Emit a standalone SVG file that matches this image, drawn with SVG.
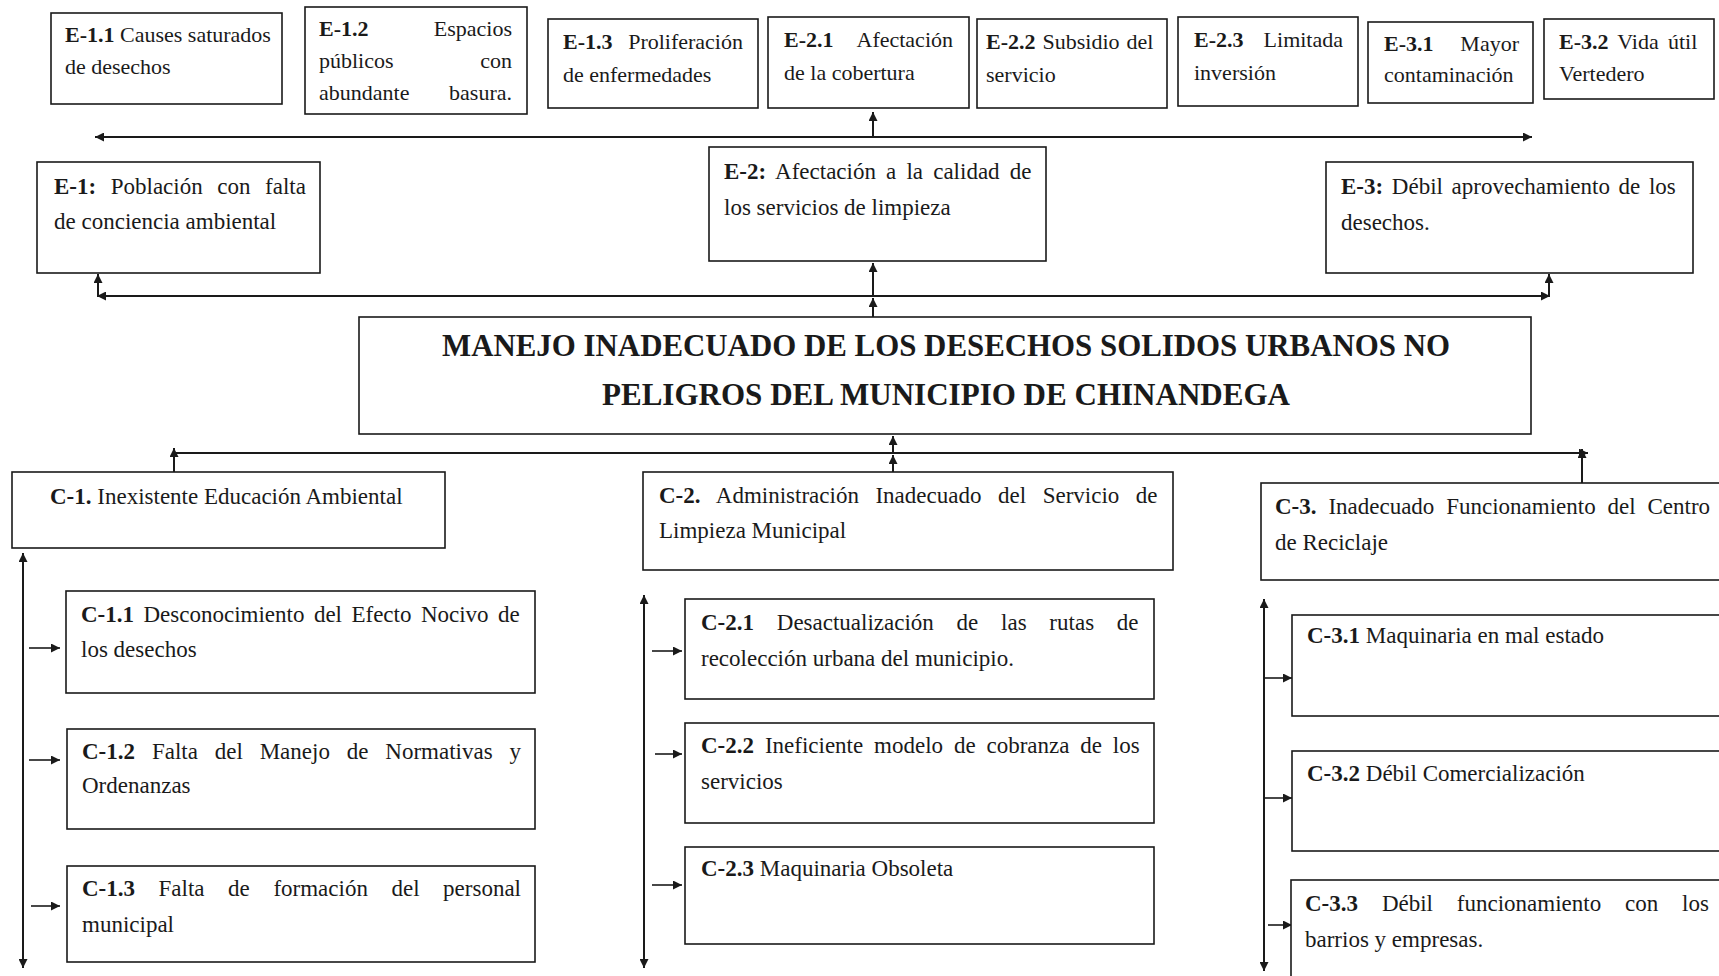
<svg xmlns="http://www.w3.org/2000/svg" width="1719" height="976" viewBox="0 0 1719 976">
<style>
text{font-family:"Liberation Serif","Times New Roman",serif;fill:#1a1a1a}
.t{font-size:22px}
.m{font-size:23px}
.b{font-weight:bold}
.e{text-anchor:end}
.box{fill:#fff;stroke:#1a1a1a;stroke-width:1.6}
.ttl{font-size:32px;font-weight:bold;text-anchor:middle}
.c{fill:none;stroke:#1a1a1a;stroke-width:2}
.c1{fill:none;stroke:#1a1a1a;stroke-width:1.6}
</style>
<defs>
<marker id="ah" viewBox="0 0 10 10" refX="10" refY="5" markerWidth="11" markerHeight="9" orient="auto-start-reverse" markerUnits="userSpaceOnUse"><path d="M0,0 L10,5 L0,10 z" fill="#1a1a1a"/></marker>
</defs>
<rect width="1719" height="976" fill="#fff"/>

<g id="connectors">
<path class="c" d="M95,137 H1532" marker-start="url(#ah)" marker-end="url(#ah)"/>
<path class="c" d="M873,137 V112" marker-end="url(#ah)"/>
<path class="c" d="M97,296 H1550" marker-start="url(#ah)" marker-end="url(#ah)"/>
<path class="c" d="M98,296 V274" marker-end="url(#ah)"/>
<path class="c" d="M1549,296 V274" marker-end="url(#ah)"/>
<path class="c" d="M873,296 V263" marker-end="url(#ah)"/>
<path class="c" d="M873,317 V298" marker-end="url(#ah)"/>
<path class="c" d="M174,453 H1588" marker-end="url(#ah)"/>
<path class="c" d="M174,472 V448" marker-end="url(#ah)"/>
<path class="c" d="M893,453 V436" marker-end="url(#ah)"/>
<path class="c" d="M893,472 V455" marker-end="url(#ah)"/>
<path class="c" d="M1582,483 V449" marker-end="url(#ah)"/>
<path class="c" d="M23,553 V968" marker-start="url(#ah)" marker-end="url(#ah)"/>
<path class="c1" d="M29,648 H60" marker-end="url(#ah)"/>
<path class="c1" d="M29,760 H60" marker-end="url(#ah)"/>
<path class="c1" d="M31,906 H60" marker-end="url(#ah)"/>
<path class="c" d="M644,595 V968" marker-start="url(#ah)" marker-end="url(#ah)"/>
<path class="c1" d="M652,651 H682" marker-end="url(#ah)"/>
<path class="c1" d="M655,754 H682" marker-end="url(#ah)"/>
<path class="c1" d="M652,885 H682" marker-end="url(#ah)"/>
<path class="c" d="M1264,599 V971" marker-start="url(#ah)" marker-end="url(#ah)"/>
<path class="c1" d="M1264,678 H1292" marker-end="url(#ah)"/>
<path class="c1" d="M1264,798 H1292" marker-end="url(#ah)"/>
<path class="c1" d="M1268,925 H1292" marker-end="url(#ah)"/>
</g>

<g id="E-1.1"><rect class="box" x="51" y="13" width="231" height="91"/>
<text class="t" x="65" y="42"><tspan class="b">E-1.1</tspan> Causes saturados</text>
<text class="t" x="65" y="74">de desechos</text></g>

<g id="E-1.2"><rect class="box" x="305" y="7" width="222" height="107"/>
<text class="t b" x="319" y="36">E-1.2</text><text class="t e" x="512" y="36">Espacios</text>
<text class="t" x="319" y="68">públicos</text><text class="t e" x="512" y="68">con</text>
<text class="t" x="319" y="100">abundante</text><text class="t e" x="512" y="100">basura.</text></g>

<g id="E-1.3"><rect class="box" x="548" y="19" width="210" height="89"/>
<text class="t b" x="563" y="49">E-1.3</text><text class="t e" x="743" y="49">Proliferación</text>
<text class="t" x="563" y="82">de enfermedades</text></g>

<g id="E-2.1"><rect class="box" x="768" y="17" width="201" height="91"/>
<text class="t b" x="784" y="47">E-2.1</text><text class="t e" x="953" y="47">Afectación</text>
<text class="t" x="784" y="80">de la cobertura</text></g>

<g id="E-2.2"><rect class="box" x="977" y="19" width="190" height="89"/>
<text class="t" x="986" y="49" style="word-spacing:1.5px"><tspan class="b">E-2.2</tspan> Subsidio del</text>
<text class="t" x="986" y="82">servicio</text></g>

<g id="E-2.3"><rect class="box" x="1178" y="17" width="180" height="89"/>
<text class="t b" x="1194" y="47">E-2.3</text><text class="t e" x="1343" y="47">Limitada</text>
<text class="t" x="1194" y="80">inversión</text></g>

<g id="E-3.1"><rect class="box" x="1368" y="22" width="165" height="81"/>
<text class="t b" x="1384" y="51">E-3.1</text><text class="t e" x="1519" y="51">Mayor</text>
<text class="t" x="1384" y="82">contaminación</text></g>

<g id="E-3.2"><rect class="box" x="1544" y="19" width="170" height="80"/>
<text class="t" x="1559" y="49" style="word-spacing:3.7px"><tspan class="b">E-3.2</tspan> Vida útil</text>
<text class="t" x="1559" y="81">Vertedero</text></g>

<g id="E-1"><rect class="box" x="37" y="162" width="283" height="111"/>
<text class="m" x="54" y="194" style="word-spacing:8.8px"><tspan class="b">E-1:</tspan> Población con falta</text>
<text class="m" x="54" y="229">de conciencia ambiental</text></g>

<g id="E-2"><rect class="box" x="709" y="147" width="337" height="114"/>
<text class="m" x="724" y="179" style="word-spacing:4.4px"><tspan class="b">E-2:</tspan> Afectación a la calidad de</text>
<text class="m" x="724" y="215">los servicios de limpieza</text></g>

<g id="E-3"><rect class="box" x="1326" y="162" width="367" height="111"/>
<text class="m" x="1341" y="194" style="word-spacing:2.9px"><tspan class="b">E-3:</tspan> Débil aprovechamiento de los</text>
<text class="m" x="1341" y="230">desechos.</text></g>

<g id="problema"><rect class="box" x="359" y="317" width="1172" height="117"/>
<text class="ttl" x="946" y="356" textLength="1008" lengthAdjust="spacingAndGlyphs">MANEJO INADECUADO DE LOS DESECHOS SOLIDOS URBANOS NO</text>
<text class="ttl" x="946" y="405" textLength="688" lengthAdjust="spacingAndGlyphs">PELIGROS DEL MUNICIPIO DE CHINANDEGA</text></g>

<g id="C-1"><rect class="box" x="12" y="472" width="433" height="76"/>
<text class="m" x="50" y="504"><tspan class="b">C-1.</tspan> Inexistente Educación Ambiental</text></g>

<g id="C-2"><rect class="box" x="643" y="472" width="530" height="98"/>
<text class="m" x="659" y="503" style="word-spacing:10.8px"><tspan class="b">C-2.</tspan> Administración Inadecuado del Servicio de</text>
<text class="m" x="659" y="538">Limpieza Municipal</text></g>

<g id="C-3"><rect class="box" x="1261" y="483" width="480" height="97"/>
<text class="m" x="1275" y="514" style="word-spacing:6.1px"><tspan class="b">C-3.</tspan> Inadecuado Funcionamiento del Centro</text>
<text class="m" x="1275" y="550">de Reciclaje</text></g>

<g id="C-1.1"><rect class="box" x="66" y="591" width="469" height="102"/>
<text class="m" x="81" y="622" style="word-spacing:3.7px"><tspan class="b">C-1.1</tspan> Desconocimiento del Efecto Nocivo de</text>
<text class="m" x="81" y="657">los desechos</text></g>

<g id="C-1.2"><rect class="box" x="67" y="729" width="468" height="100"/>
<text class="m" x="82" y="759" style="word-spacing:11.1px"><tspan class="b">C-1.2</tspan> Falta del Manejo de Normativas y</text>
<text class="m" x="82" y="793">Ordenanzas</text></g>

<g id="C-1.3"><rect class="box" x="67" y="866" width="468" height="96"/>
<text class="m" x="82" y="896" style="word-spacing:17.8px"><tspan class="b">C-1.3</tspan> Falta de formación del personal</text>
<text class="m" x="82" y="932">municipal</text></g>

<g id="C-2.1"><rect class="box" x="685" y="599" width="469" height="100"/>
<text class="m" x="701" y="630" style="word-spacing:17px"><tspan class="b">C-2.1</tspan> Desactualización de las rutas de</text>
<text class="m" x="701" y="666">recolección urbana del municipio.</text></g>

<g id="C-2.2"><rect class="box" x="685" y="723" width="469" height="100"/>
<text class="m" x="701" y="753" style="word-spacing:5.1px"><tspan class="b">C-2.2</tspan> Ineficiente modelo de cobranza de los</text>
<text class="m" x="701" y="789">servicios</text></g>

<g id="C-2.3"><rect class="box" x="685" y="847" width="469" height="97"/>
<text class="m" x="701" y="876"><tspan class="b">C-2.3</tspan> Maquinaria Obsoleta</text></g>

<g id="C-3.1"><rect class="box" x="1292" y="615" width="450" height="101"/>
<text class="m" x="1307" y="643"><tspan class="b">C-3.1</tspan> Maquinaria en mal estado</text></g>

<g id="C-3.2"><rect class="box" x="1292" y="751" width="450" height="100"/>
<text class="m" x="1307" y="781"><tspan class="b">C-3.2</tspan> Débil Comercialización</text></g>

<g id="C-3.3"><rect class="box" x="1291" y="880" width="450" height="120"/>
<text class="m" x="1305" y="911" style="word-spacing:18.1px"><tspan class="b">C-3.3</tspan> Débil funcionamiento con los</text>
<text class="m" x="1305" y="947">barrios y empresas.</text></g>
</svg>
